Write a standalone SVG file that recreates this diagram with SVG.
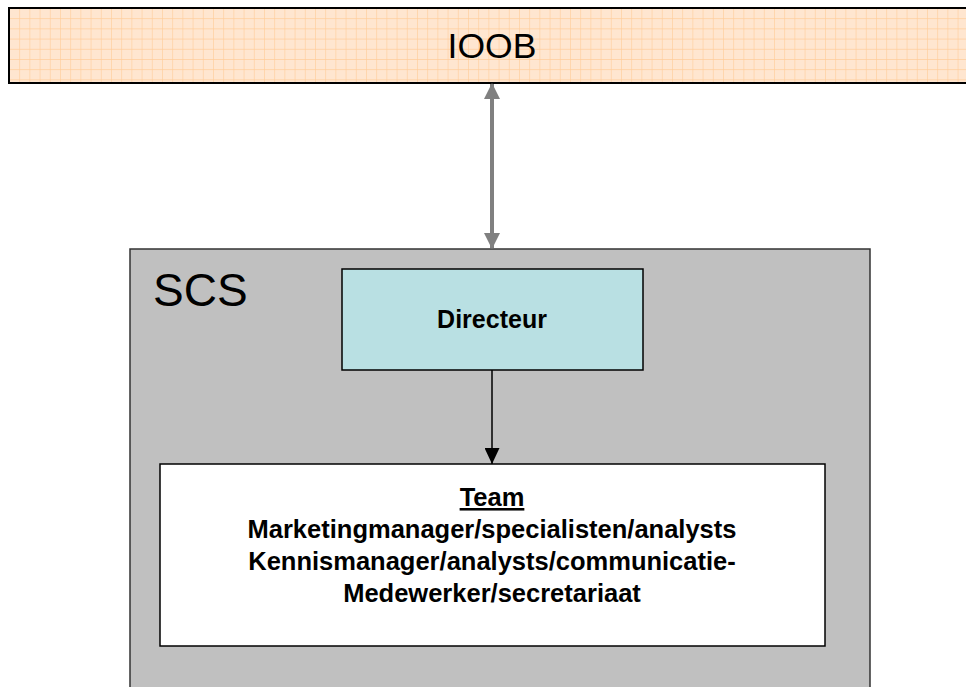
<svg xmlns="http://www.w3.org/2000/svg" width="966" height="687" viewBox="0 0 966 687">
<defs>
<pattern id="grid" x="9" y="8" width="10.2" height="10.2" patternUnits="userSpaceOnUse">
<rect width="10.2" height="10.2" fill="#FFE6D0"/>
<path d="M0 0H10.2M0 0V10.2" stroke="#FFCC99" stroke-width="1.2" fill="none"/>
</pattern>
<marker id="ag" viewBox="0 0 16 16" refX="15" refY="8" markerWidth="16" markerHeight="16" markerUnits="userSpaceOnUse" orient="auto-start-reverse">
<path d="M0 0L16 8L0 16Z" fill="#808080"/>
</marker>
<marker id="ab" viewBox="0 0 16 15" refX="16" refY="7.5" markerWidth="16" markerHeight="15" markerUnits="userSpaceOnUse" orient="auto">
<path d="M0 0L16 7.5L0 15Z" fill="#000"/>
</marker>
</defs>
<style>
text{font-family:"Liberation Sans",Arial,sans-serif;fill:#000}
.b{font-weight:bold}
.box{stroke:#000;stroke-width:1.5}
.t{font-weight:bold;font-size:25.5px;text-anchor:middle}
</style>
<rect width="966" height="687" fill="#fff"/>
<g id="IOOB">
<rect x="9" y="8" width="970" height="75" fill="url(#grid)" stroke="#000" stroke-width="2"/>
<text x="492" y="58" font-size="35.5" text-anchor="middle">IOOB</text>
</g>
<g id="SCS">
<rect x="130" y="249" width="740" height="460" fill="#C0C0C0" stroke="#333" stroke-width="1.5"/>
<text x="153" y="306" font-size="46">SCS</text>
</g>
<g id="Directeur">
<rect class="box" x="342" y="269" width="301" height="101" fill="#B9E0E3"/>
<text class="b" x="492" y="328" font-size="25" text-anchor="middle">Directeur</text>
</g>
<g id="Team">
<rect class="box" x="160" y="464" width="665" height="182" fill="#fff"/>
<text class="t" x="492" y="506" text-decoration="underline">Team</text>
<text class="t" x="492" y="538">Marketingmanager/specialisten/analysts</text>
<text class="t" x="492" y="570">Kennismanager/analysts/communicatie-</text>
<text class="t" x="492" y="602">Medewerker/secretariaat</text>
</g>
<g id="connectors">
<line x1="492" y1="84" x2="492" y2="248" stroke="#808080" stroke-width="4" marker-start="url(#ag)" marker-end="url(#ag)"/>
<line x1="492" y1="370" x2="492" y2="464" stroke="#000" stroke-width="1.5" marker-end="url(#ab)"/>
</g>
</svg>
